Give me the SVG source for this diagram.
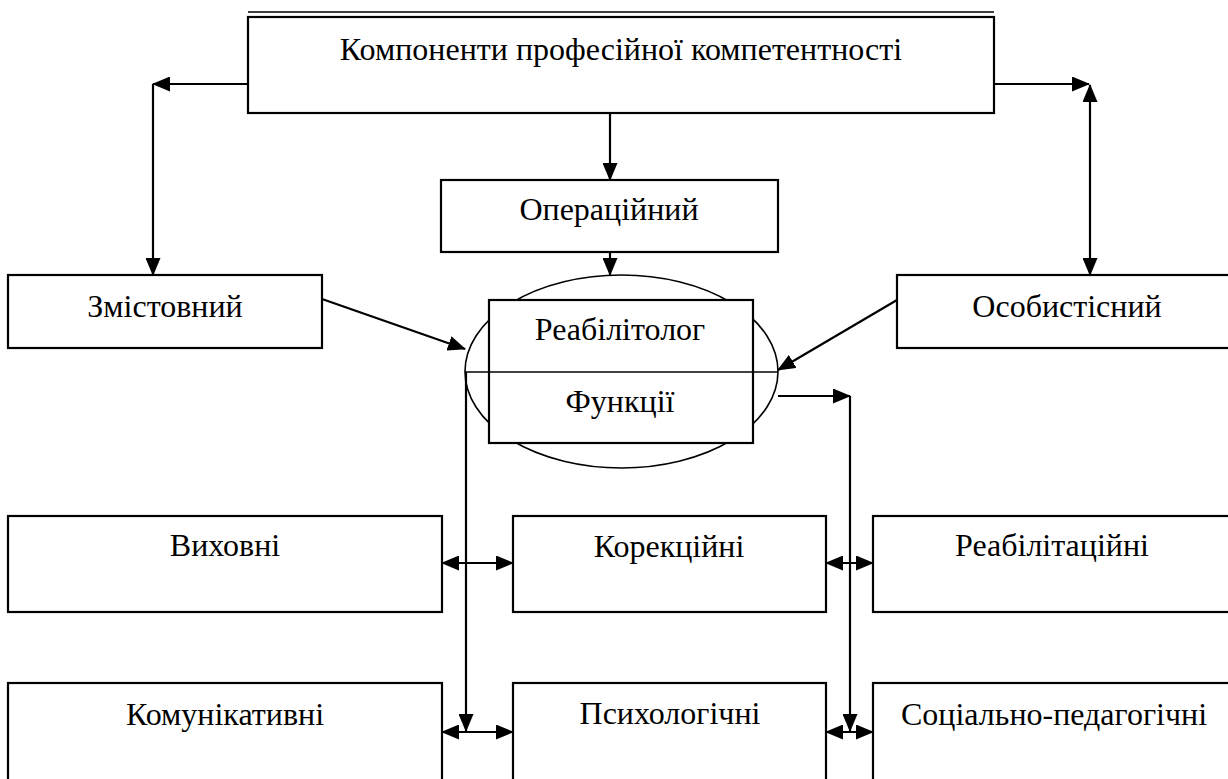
<svg xmlns="http://www.w3.org/2000/svg" width="1228" height="779" viewBox="0 0 1228 779">
<style>
.box{fill:#fff;stroke:#000;stroke-width:2.2}
.thin{fill:none;stroke:#000;stroke-width:1.6}
.t{font-family:'Liberation Serif','Times New Roman',Tinos,serif;font-size:32px;fill:#000;text-anchor:middle}
.c{fill:none;stroke:#000;stroke-width:2.2}
</style>
<defs>
<marker id="ah" markerUnits="userSpaceOnUse" markerWidth="18" markerHeight="15" refX="17" refY="7.5" orient="auto-start-reverse" viewBox="0 0 18 15">
<path d="M0,0 L18,7.5 L0,15 Z" fill="#000"/>
</marker>
</defs>
<rect width="1228" height="779" fill="#fff"/>

<g id="top">
<line x1="248" y1="12" x2="994" y2="12" stroke="#000" stroke-width="1.6"/>
<rect class="box" x="248" y="17" width="746" height="96"/>
<text class="t" x="621" y="60">Компоненти професійної компетентності</text>
</g>

<g id="operational">
<rect class="box" x="441" y="180" width="337" height="72"/>
<text class="t" x="609" y="220">Операційний</text>
</g>

<g id="content">
<rect class="box" x="8" y="275" width="314" height="73"/>
<text class="t" x="165" y="317">Змістовний</text>
</g>

<g id="personal">
<rect class="box" x="897" y="275" width="340" height="73"/>
<text class="t" x="1067" y="317">Особистісний</text>
</g>

<g id="rehabilitologist">
<ellipse class="thin" cx="621.5" cy="371.5" rx="156.5" ry="96.5"/>
<rect class="box" x="489" y="300" width="264" height="143"/>
<line class="thin" x1="465" y1="372" x2="778" y2="372"/>
<text class="t" x="620" y="340">Реабілітолог</text>
<text class="t" x="620" y="412">Функції</text>
</g>

<g id="educational">
<rect class="box" x="8" y="516" width="434" height="96"/>
<text class="t" x="225" y="556">Виховні</text>
</g>
<g id="corrective">
<rect class="box" x="513" y="516" width="313" height="96"/>
<text class="t" x="669" y="557">Корекційні</text>
</g>
<g id="rehabilitation">
<rect class="box" x="873" y="516" width="365" height="96"/>
<text class="t" x="1052" y="556">Реабілітаційні</text>
</g>
<g id="communicative">
<rect class="box" x="8" y="683" width="434" height="110"/>
<text class="t" x="225" y="725">Комунікативні</text>
</g>
<g id="psychological">
<rect class="box" x="513" y="683" width="313" height="110"/>
<text class="t" x="670" y="724">Психологічні</text>
</g>
<g id="sociopedagogical">
<rect class="box" x="873" y="683" width="365" height="110"/>
<text class="t" x="1054" y="725">Соціально-педагогічні</text>
</g>

<g id="connectors">
<line class="c" x1="248" y1="84" x2="153" y2="84" marker-end="url(#ah)"/>
<line class="c" x1="153" y1="84" x2="153" y2="275" marker-end="url(#ah)"/>
<line class="c" x1="994" y1="84" x2="1089" y2="84" marker-end="url(#ah)"/>
<line class="c" x1="1090" y1="85" x2="1090" y2="275" marker-start="url(#ah)" marker-end="url(#ah)"/>
<line class="c" x1="610" y1="113" x2="610" y2="180" marker-end="url(#ah)"/>
<line class="c" x1="610" y1="252" x2="610" y2="275" marker-end="url(#ah)"/>
<line class="c" x1="322" y1="299" x2="465" y2="349" marker-end="url(#ah)"/>
<line class="c" x1="897" y1="300" x2="778" y2="370" marker-end="url(#ah)"/>
<line class="c" x1="778" y1="396" x2="850" y2="396" marker-end="url(#ah)"/>
<line class="c" x1="466" y1="372" x2="466" y2="731" marker-end="url(#ah)"/>
<line class="c" x1="850" y1="396" x2="850" y2="731" marker-end="url(#ah)"/>
<line class="c" x1="442" y1="563" x2="513" y2="563" marker-start="url(#ah)" marker-end="url(#ah)"/>
<line class="c" x1="826" y1="563" x2="873" y2="563" marker-start="url(#ah)" marker-end="url(#ah)"/>
<line class="c" x1="442" y1="732" x2="513" y2="732" marker-start="url(#ah)" marker-end="url(#ah)"/>
<line class="c" x1="826" y1="732" x2="873" y2="732" marker-start="url(#ah)" marker-end="url(#ah)"/>
</g>
</svg>
